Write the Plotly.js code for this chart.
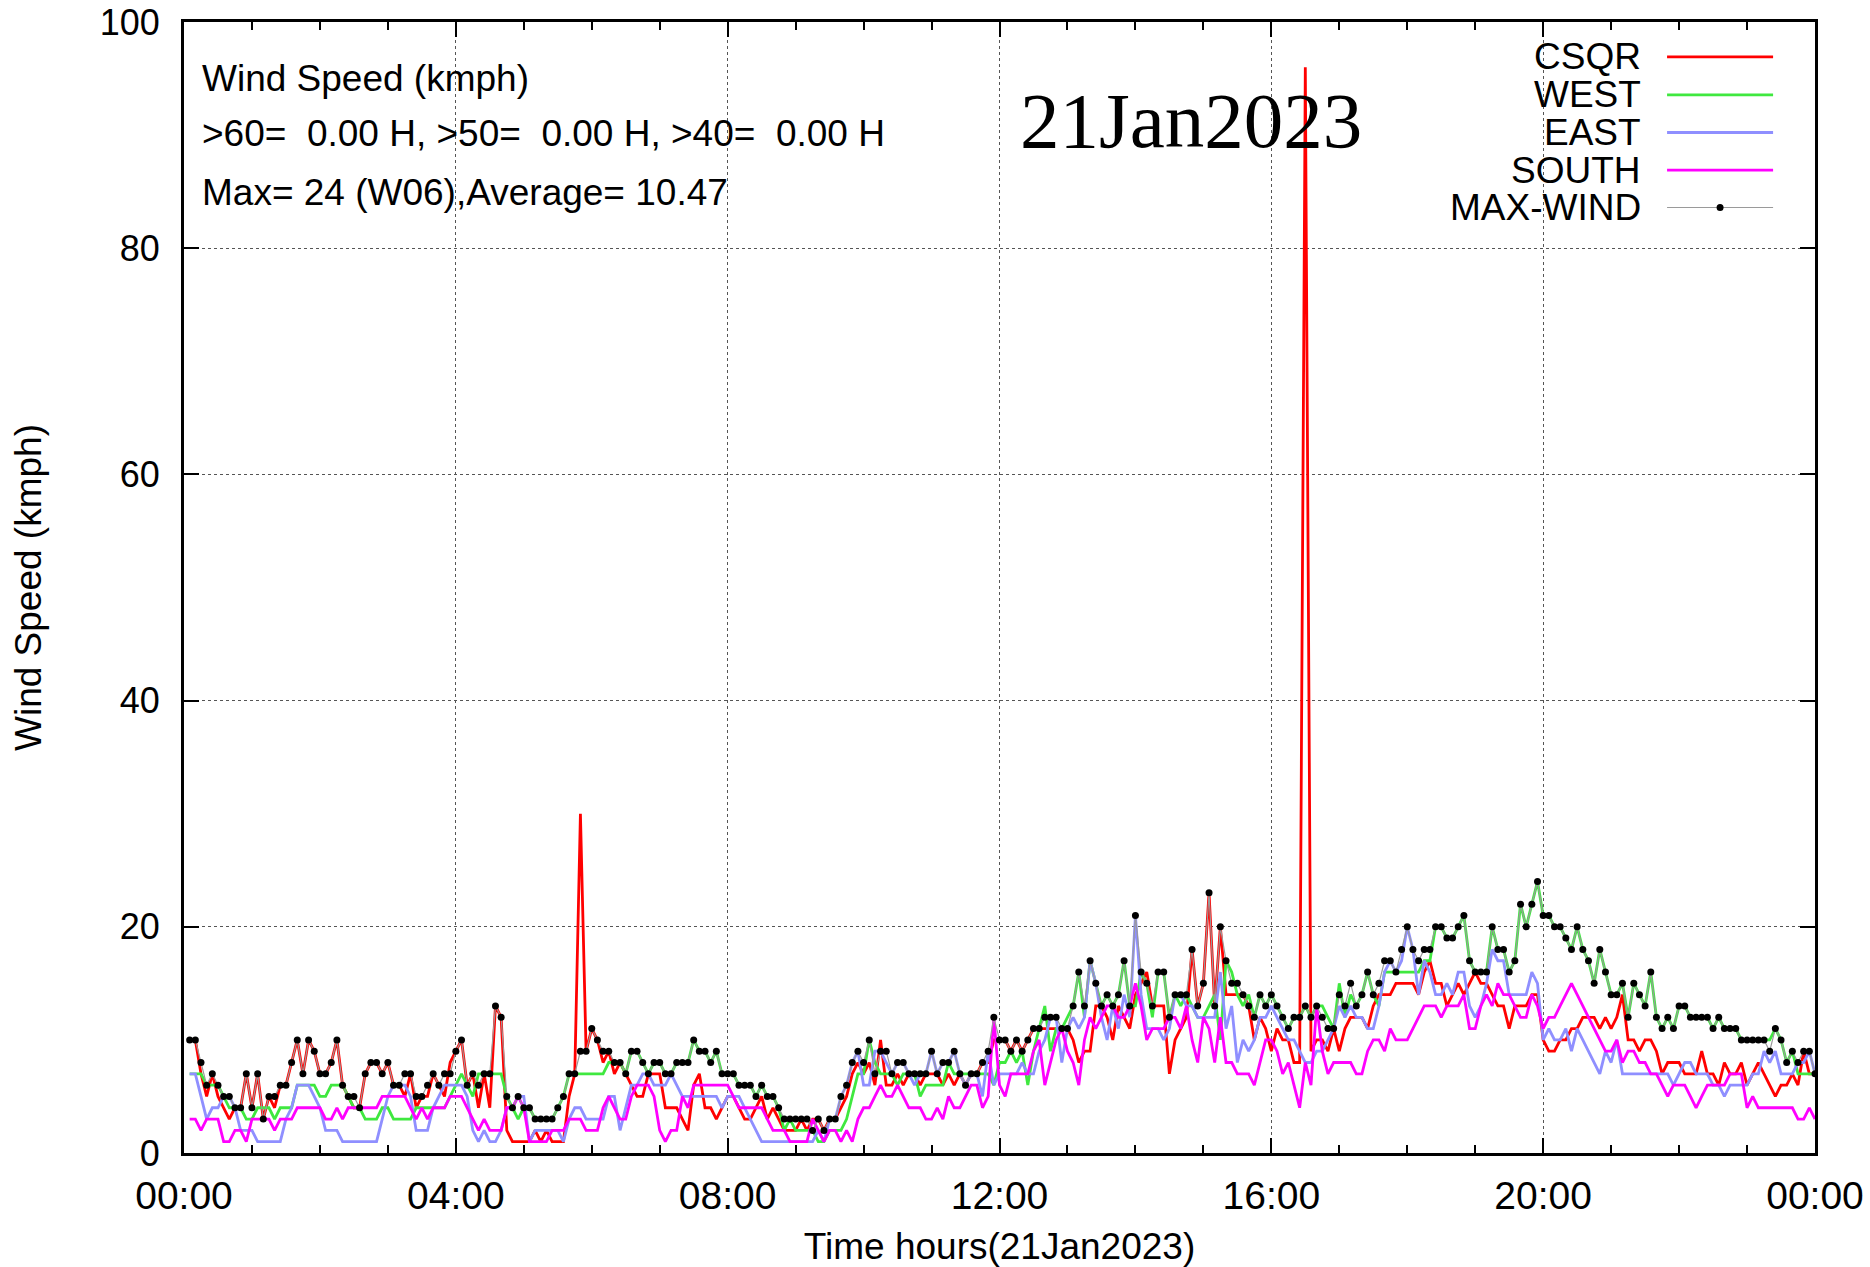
<!DOCTYPE html>
<html>
<head>
<meta charset="utf-8">
<script src="https://cdn.plot.ly/plotly-3.0.1.min.js"></script>
<style>
html,body{margin:0;padding:0;background:#ffffff;}
#chart{width:1870px;height:1267px;}
</style>
</head>
<body>
<div id="chart"></div>
<script>
// ---- data: 5-minute samples from 00:05 to 24:00 (kmph) ----
const csqr = [
10,10,7,5,7,5,4,3,4,4,7,4,7,3,5,4,6,6,8,10,7,10,9,7,7,8,10,6,5,4,4,7,8,8,7,8,
6,6,5,7,4,5,5,7,6,5,8,9,10,6,7,4,7,4,13,12,2,1,1,1,1,2,1,2,1,1,1,5,7,30,9,11,
10,8,9,7,8,7,6,5,5,7,7,7,4,4,4,3,2,6,7,4,4,3,4,5,5,4,3,3,4,5,3,4,3,2,2,2,
3,2,3,3,2,3,3,4,5,7,8,7,8,6,10,6,6,7,6,7,7,6,7,7,7,6,7,6,7,6,7,7,8,8,10,10,
10,9,10,9,10,11,11,11,11,11,11,11,10,8,9,9,13,13,12,10,13,12,11,14,15,16,13,13,13,7,10,11,12,18,13,15,
23,13,20,14,14,14,14,13,10,12,11,9,11,10,10,8,8,96,9,10,10,9,11,9,11,12,12,12,11,13,14,14,14,15,15,15,
15,14,16,17,15,15,13,14,15,14,15,16,15,15,14,13,13,11,13,13,13,14,14,10,9,9,10,10,11,11,12,12,12,11,12,11,
12,14,10,10,9,10,10,9,7,8,8,8,7,7,7,9,7,7,6,8,7,7,8,6,7,8,7,6,5,6,6,7,6,9,7,7
];
const west = [
7,7,7,6,6,6,5,4,4,4,3,3,4,4,4,3,4,4,4,6,6,6,6,5,5,6,6,6,5,4,4,3,3,3,4,4,
3,3,3,3,4,4,4,4,4,4,5,6,7,6,5,7,7,7,7,7,5,4,3,4,4,3,3,3,3,4,5,7,7,7,7,7,
7,7,8,8,8,7,9,9,8,7,8,8,7,7,8,8,8,10,9,9,8,9,7,7,7,6,6,6,5,6,5,5,4,2,3,2,
2,2,2,1,1,2,2,2,3,5,7,7,10,8,7,7,7,6,7,7,7,5,6,6,6,6,8,7,7,7,7,7,7,7,6,8,
8,9,8,9,6,9,11,13,9,11,11,12,13,16,12,17,15,13,14,13,14,17,13,13,16,15,12,16,16,12,14,13,14,13,12,12,
13,14,10,17,16,14,13,14,12,14,13,14,13,12,11,12,12,13,12,13,13,12,11,15,12,14,13,14,16,14,13,16,16,16,16,16,
16,16,17,17,20,20,19,19,20,21,17,16,16,16,20,18,18,16,17,22,20,22,24,21,21,20,20,19,18,20,18,17,15,18,16,14,
14,15,12,15,14,13,16,12,11,12,11,13,13,12,12,12,12,11,12,11,11,11,10,10,10,10,10,10,11,10,8,9,7,7,7,7
];
const east = [
7,7,5,3,4,4,5,5,4,2,2,2,1,1,1,1,1,3,4,6,6,6,5,4,2,2,2,1,1,1,1,1,1,1,3,5,
6,6,6,5,2,2,2,4,5,6,6,6,6,5,2,1,2,1,1,2,4,4,5,5,1,2,2,2,2,2,1,3,4,4,3,3,
3,3,5,5,2,4,6,6,7,7,6,6,6,7,6,5,5,5,5,5,5,5,4,5,5,5,4,3,2,1,1,1,1,1,1,1,
1,1,1,2,1,3,3,5,6,8,9,6,6,9,9,8,7,8,8,7,6,7,7,9,7,8,8,9,7,6,7,7,5,9,6,7,
7,7,7,8,7,7,9,10,12,12,8,11,12,11,12,17,15,12,10,13,11,14,12,21,14,11,11,11,10,11,14,14,13,13,12,12,
12,12,16,11,13,8,10,9,10,12,12,13,12,11,10,10,9,8,8,9,9,10,11,13,12,13,12,12,11,11,13,16,17,16,17,20,
18,14,17,16,14,14,15,14,16,16,13,12,13,15,18,17,17,14,14,14,14,16,15,10,11,10,10,11,9,11,10,9,8,7,9,8,
10,7,7,7,7,7,7,7,7,7,6,7,8,8,7,7,7,6,6,5,6,6,6,6,7,7,9,8,9,7,7,7,8,8,9,7
];
const south = [
3,3,2,3,3,3,1,1,2,2,1,3,3,3,3,2,3,3,3,4,4,4,4,4,3,3,4,3,4,4,4,4,4,4,5,5,
5,5,5,4,3,4,3,4,4,4,5,5,5,4,3,2,3,2,2,2,4,4,5,4,1,1,1,1,2,2,2,3,3,3,2,2,
2,4,5,4,3,3,5,6,6,6,5,2,1,2,2,5,4,6,6,6,6,6,6,6,5,4,4,4,4,4,3,2,2,2,1,1,
1,1,3,2,1,2,2,1,2,1,3,4,4,5,6,5,5,6,5,4,4,4,3,3,4,3,5,4,4,5,6,6,4,5,12,6,
5,7,7,7,7,9,10,6,8,10,11,9,8,6,10,12,11,12,13,13,12,12,13,15,13,10,11,11,11,12,12,11,13,10,8,12,
11,8,12,8,8,7,7,7,6,8,10,10,9,7,8,6,4,8,6,13,9,7,8,8,8,8,7,7,9,10,10,9,11,10,10,10,
11,12,13,13,13,12,13,13,13,14,11,11,13,14,13,15,14,14,13,12,12,14,13,11,12,12,13,14,15,14,13,12,11,10,9,9,
10,8,9,9,8,8,7,7,6,5,6,6,6,5,4,5,6,6,6,6,7,7,7,4,5,4,4,4,4,4,4,4,3,3,4,3
];
const maxWind = [
10,10,8,6,7,6,5,5,4,4,7,4,7,3,5,5,6,6,8,10,7,10,9,7,7,8,10,6,5,5,4,7,8,8,7,8,
6,6,7,7,5,5,6,7,6,7,7,9,10,6,7,6,7,7,13,12,5,4,5,4,4,3,3,3,3,4,5,7,7,9,9,11,
10,9,9,8,8,7,9,9,8,7,8,8,7,7,8,8,8,10,9,9,8,9,7,7,7,6,6,6,5,6,5,5,4,3,3,3,
3,3,2,3,2,3,3,5,6,8,9,8,10,7,9,9,7,8,8,7,7,7,7,9,7,8,8,9,7,6,7,7,8,9,12,10,
10,9,10,9,10,11,11,12,12,12,11,11,13,16,13,17,15,13,14,13,14,17,13,21,16,15,13,16,16,12,14,14,14,18,13,15,
23,13,20,17,15,15,14,13,12,14,13,14,13,12,11,12,12,13,12,13,12,11,11,14,13,15,13,14,16,14,15,17,17,16,18,20,
18,17,18,18,20,20,19,19,20,21,17,16,16,16,20,18,18,16,17,22,20,22,24,21,21,20,20,19,18,20,18,17,15,18,16,14,
14,15,12,15,14,13,16,12,11,12,11,13,13,12,12,12,12,11,12,11,11,11,10,10,10,10,10,9,11,10,8,9,8,9,9,7
];
const seriesNames = ['CSQR', 'WEST', 'EAST', 'SOUTH', 'MAX-WIND'];
const dayLabel = '21Jan2023';
const dayStart = '2023-01-21 00:00';
const dayEnd = '2023-01-22 00:00';
const stepMinutes = 5;
const infoLines = [
  'Wind Speed (kmph)',
  '>60=\u00a0\u00a00.00 H, >50=\u00a0\u00a00.00 H, >40=\u00a0\u00a00.00 H',
  'Max= 24 (W06),Average= 10.47'
];

// ---- build time axis ----
function stamp(i) {
  const d = new Date(Date.UTC(2023, 0, 21, 0, stepMinutes * (i + 1)));
  return d.toISOString().slice(0, 16).replace('T', ' ');
}
const times = csqr.map((_, i) => stamp(i));

const colors = ['#ff0000', '#3fe83f', '#8f8fff', '#ff00ff', '#9a9a9a'];
const values = [csqr, west, east, south];

const traces = values.map((v, i) => ({
  type: 'scatter', mode: 'lines', x: times, y: v, name: seriesNames[i],
  line: {color: colors[i], width: 2.8}, showlegend: false, hoverinfo: 'skip'
}));
traces.push({
  type: 'scatter', mode: 'lines+markers', x: times, y: maxWind, name: seriesNames[4],
  line: {color: colors[4], width: 1.2},
  marker: {color: '#000000', size: 7}, showlegend: false, hoverinfo: 'skip'
});

const FONT = 'Liberation Sans, Arial, Helvetica, sans-serif';

// ---- manual gnuplot-style key (text right, sample left-to-right) ----
const keyRows = [0.9691, 0.9355, 0.9023, 0.8691, 0.8360];
const annotations = [];
const shapes = [];
seriesNames.forEach((n, i) => {
  annotations.push({xref: 'paper', yref: 'paper', x: 0.8948, y: keyRows[i],
    xanchor: 'right', yanchor: 'middle', showarrow: false, text: n,
    font: {family: FONT, size: 37, color: '#000'}});
  shapes.push({type: 'line', xref: 'paper', yref: 'paper', x0: 0.9093, x1: 0.9743,
    y0: keyRows[i], y1: keyRows[i], line: {color: colors[i], width: i === 4 ? 1.2 : 2.8}});
});
shapes.push({type: 'circle', xref: 'paper', yref: 'paper', xsizemode: 'pixel', ysizemode: 'pixel',
  xanchor: 0.9418, yanchor: keyRows[4], x0: -3.5, x1: 3.5, y0: -3.5, y1: 3.5,
  fillcolor: '#000', line: {width: 0}});

const infoY = [0.9500, 0.9010, 0.8492];
infoLines.forEach((t, i) => {
  annotations.push({xref: 'paper', yref: 'paper', x: 0.0098, y: infoY[i],
    xanchor: 'left', yanchor: 'middle', showarrow: false, text: t,
    font: {family: FONT, size: 37, color: '#000'}});
});
annotations.push({xref: 'paper', yref: 'paper', x: 0.6174, y: 0.9125,
  xanchor: 'center', yanchor: 'middle', showarrow: false, text: dayLabel,
  font: {family: 'Liberation Serif, Times New Roman, serif', size: 79, color: '#000'}});

const layout = {
  width: 1870, height: 1267,
  margin: {l: 184, r: 55, t: 22, b: 114, pad: 0},
  paper_bgcolor: '#ffffff', plot_bgcolor: '#ffffff',
  font: {family: FONT, color: '#000'},
  showlegend: false,
  xaxis: {
    type: 'date', range: [dayStart, dayEnd], tick0: dayStart, dtick: 4 * 3600000,
    tickformat: '%H:%M',
    ticks: 'inside', ticklen: 15, tickwidth: 2, tickcolor: '#000',
    showline: true, linewidth: 3, linecolor: '#000', mirror: 'allticks',
    showgrid: true, gridcolor: '#555', griddash: 'dot', gridwidth: 1,
    minor: {dtick: 3600000, tick0: dayStart, ticks: 'inside', ticklen: 8, tickwidth: 2,
            tickcolor: '#000', showgrid: false},
    tickfont: {family: FONT, size: 39, color: '#000'}, ticklabelstandoff: 6,
    title: {text: 'Time hours(21Jan2023)', font: {family: FONT, size: 37, color: '#000'}, standoff: 22},
    zeroline: false, automargin: false, fixedrange: true
  },
  yaxis: {
    range: [0, 100], tick0: 0, dtick: 20,
    ticks: 'inside', ticklen: 15, tickwidth: 2, tickcolor: '#000',
    showline: true, linewidth: 3, linecolor: '#000', mirror: 'allticks',
    showgrid: true, gridcolor: '#555', griddash: 'dot', gridwidth: 1,
    tickfont: {family: FONT, size: 36, color: '#000'}, ticklabelstandoff: 14,
    title: {text: 'Wind Speed (kmph)', font: {family: FONT, size: 37, color: '#000'}, standoff: 47},
    zeroline: false, automargin: false, fixedrange: true
  },
  annotations: annotations,
  shapes: shapes
};

Plotly.newPlot('chart', traces, layout, {staticPlot: true, displayModeBar: false});
</script>
</body>
</html>
